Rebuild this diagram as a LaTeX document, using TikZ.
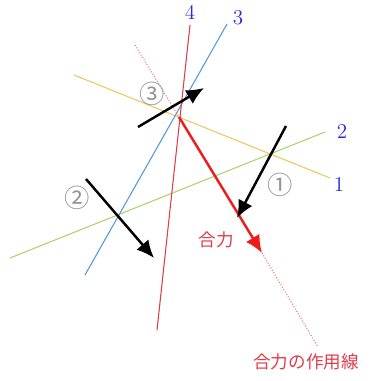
\documentclass[tikz,border=0pt]{standalone}
\usepackage{fontspec}
\newfontfamily\cjk{Noto Sans CJK JP}
\usepackage{xcolor}
\usetikzlibrary{arrows.meta}
\definecolor{lineone}{RGB}{242,196,90}
\definecolor{linetwo}{RGB}{170,212,110}
\definecolor{linethree}{RGB}{80,152,215}
\definecolor{linefour}{RGB}{222,60,70}
\definecolor{numblue}{RGB}{40,40,230}
\definecolor{forcered}{RGB}{238,28,28}
\definecolor{labelred}{RGB}{225,60,75}

\begin{document}
\begin{tikzpicture}[x=0.02cm, y=-0.02cm,
    force/.style={-{Latex[length=10pt,width=9pt]}, line width=1.4pt},
    linenum/.style={font=\large, text=numblue, inner sep=0pt},
    forcenum/.style={font=\cjk\Large, text=gray!85, inner sep=0pt}]
  \useasboundingbox (0,0) rectangle (380,381);
  % lines of action of the four forces
  \foreach \n/\xa/\ya/\xb/\yb/\c in {1/74/75/330/178/lineone,
      2/10/258/325/132/linetwo,
      3/85/275/227/24/linethree,
      4/157/330/190/25/linefour} {
    \coordinate (s\n) at (\xa,\ya);
    \coordinate (e\n) at (\xb,\yb);
    \draw[\c, line width=0.6pt] (s\n) -- (e\n);
  }
  \node[linenum] (n1) at (339,184) {1};
  \node[linenum] (n2) at (342,131) {2};
  \node[linenum] (n3) at (238,18) {3};
  \node[linenum] (n4) at (190,12) {4};
  % resultant and its line of action
  \coordinate (r0) at (135,45);
  \coordinate (r1) at (179,117);
  \coordinate (r2) at (262,253);
  \coordinate (r3) at (318,347);
  \draw[labelred!70, densely dotted, line width=0.6pt] (r0) -- (r1);
  \draw[labelred!70, densely dotted, line width=0.6pt] (r2) -- (r3);
  \draw[force, forcered] (r1) -- (r2);
  \node[font=\cjk, text=labelred] (sum) at (216,240) {合力};
  \node[font=\cjk, text=labelred] (act) at (306,362) {合力の作用線};
  % the three forces
  \coordinate (f1a) at (286,126);
  \coordinate (f1b) at (237,218);
  \coordinate (f2a) at (86,179);
  \coordinate (f2b) at (154,258);
  \coordinate (f3a) at (138,127);
  \coordinate (f3b) at (204,88);
  \draw[force] (f1a) -- (f1b);
  \draw[force] (f2a) -- (f2b);
  \draw[force] (f3a) -- (f3b);
  \node[forcenum] (c1) at (280,185) {①};
  \node[forcenum] (c2) at (77,198) {②};
  \node[forcenum] (c3) at (152,94) {③};
\end{tikzpicture}
\end{document}
